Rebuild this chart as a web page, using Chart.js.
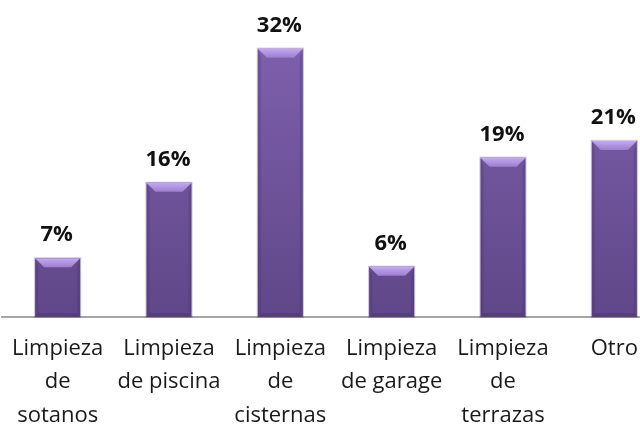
<!DOCTYPE html>
<html>
<head>
<meta charset="utf-8">
<script src="https://cdn.jsdelivr.net/npm/chart.js@4/dist/chart.umd.min.js"></script>
<style>
  html, body { margin: 0; padding: 0; background: #fff; }
  #wrap { width: 640px; height: 425px; overflow: hidden; position: relative; }
  #chart { display: block; }
</style>
</head>
<body>
<div id="wrap"><canvas id="chart" width="680" height="425"></canvas></div>
<script>
const CATEGORIES = [
  ["Limpieza", "de", "sotanos"],
  ["Limpieza", "de piscina"],
  ["Limpieza", "de", "cisternas"],
  ["Limpieza", "de garage"],
  ["Limpieza", "de", "terrazas"],
  ["Otro"]
];
const VALUES = [7, 16, 32, 6, 19, 21];

const FONT_FAMILY = "'Open Sans', 'Noto Sans', sans-serif";

function barFill(context) {
  const chart = context.chart;
  const area = chart.chartArea;
  if (!area) return '#7254a0';
  const g = chart.ctx.createLinearGradient(0, area.top, 0, area.bottom);
  g.addColorStop(0, '#8363b2');
  g.addColorStop(1, '#5f4788');
  return g;
}

// bevel look of the original bars: light top facet, darker side edges
const bevelPlugin = {
  id: 'bevel',
  afterDatasetsDraw(chart) {
    const ctx = chart.ctx;
    const meta = chart.getDatasetMeta(0);
    meta.data.forEach((bar) => {
      const { x, y, base, width } = bar.getProps(['x', 'y', 'base', 'width'], true);
      const l = x - width / 2, r = x + width / 2;
      const b = 9;
      ctx.save();
      // side facets
      ctx.fillStyle = 'rgba(60, 35, 100, 0.22)';
      ctx.beginPath();
      ctx.moveTo(l, y); ctx.lineTo(l + 3, y + b); ctx.lineTo(l + 3, base); ctx.lineTo(l, base); ctx.closePath();
      ctx.fill();
      ctx.beginPath();
      ctx.moveTo(r, y); ctx.lineTo(r - 3, y + b); ctx.lineTo(r - 3, base); ctx.lineTo(r, base); ctx.closePath();
      ctx.fill();
      // top facet
      const tg = ctx.createLinearGradient(0, y, 0, y + b);
      tg.addColorStop(0, '#c4aaf0');
      tg.addColorStop(1, '#9c7dcf');
      ctx.fillStyle = tg;
      ctx.beginPath();
      ctx.moveTo(l, y); ctx.lineTo(r, y); ctx.lineTo(r - b, y + b); ctx.lineTo(l + b, y + b); ctx.closePath();
      ctx.fill();
      // bottom shade
      ctx.fillStyle = 'rgba(50, 30, 80, 0.22)';
      ctx.fillRect(l + 3, base - 4, width - 6, 4);
      // outline
      ctx.strokeStyle = 'rgba(80, 60, 110, 0.3)';
      ctx.lineWidth = 1;
      ctx.strokeRect(l - 0.5, y - 0.5, width + 1, base - y + 1);
      ctx.restore();
    });
  }
};

const valueLabelPlugin = {
  id: 'valueLabels',
  afterDatasetsDraw(chart) {
    const ctx = chart.ctx;
    const meta = chart.getDatasetMeta(0);
    ctx.save();
    ctx.font = "bold 22px " + FONT_FAMILY;
    ctx.fillStyle = '#111';
    ctx.textAlign = 'center';
    ctx.textBaseline = 'alphabetic';
    meta.data.forEach((bar, i) => {
      ctx.fillText(VALUES[i] + '%', bar.x - 1, bar.y - 17);
    });
    ctx.restore();
  }
};

new Chart(document.getElementById('chart'), {
  type: 'bar',
  data: {
    labels: CATEGORIES,
    datasets: [{
      data: VALUES,
      backgroundColor: barFill,
      borderWidth: 0,
      categoryPercentage: 1,
      barPercentage: 0.405
    }]
  },
  plugins: [bevelPlugin, valueLabelPlugin],
  options: {
    responsive: false,
    animation: false,
    layout: { padding: { left: 2, right: 10, top: 0, bottom: 0 } },
    plugins: {
      legend: { display: false },
      tooltip: { enabled: false }
    },
    scales: {
      x: {
        grid: { display: false, drawTicks: false },
        border: { display: true, color: '#a6a6a6', width: 2 },
        ticks: {
          color: '#1a1a1a',
          font: { family: FONT_FAMILY, size: 22, lineHeight: 1.52 },
          padding: 15,
          autoSkip: false,
          maxRotation: 0
        },
        afterFit(scale) {
          scale.height = 108;
          scale.paddingLeft = 0;
          scale.paddingRight = 0;
        }
      },
      y: {
        display: false,
        min: 0,
        max: 37.8
      }
    }
  }
});
</script>
</body>
</html>
